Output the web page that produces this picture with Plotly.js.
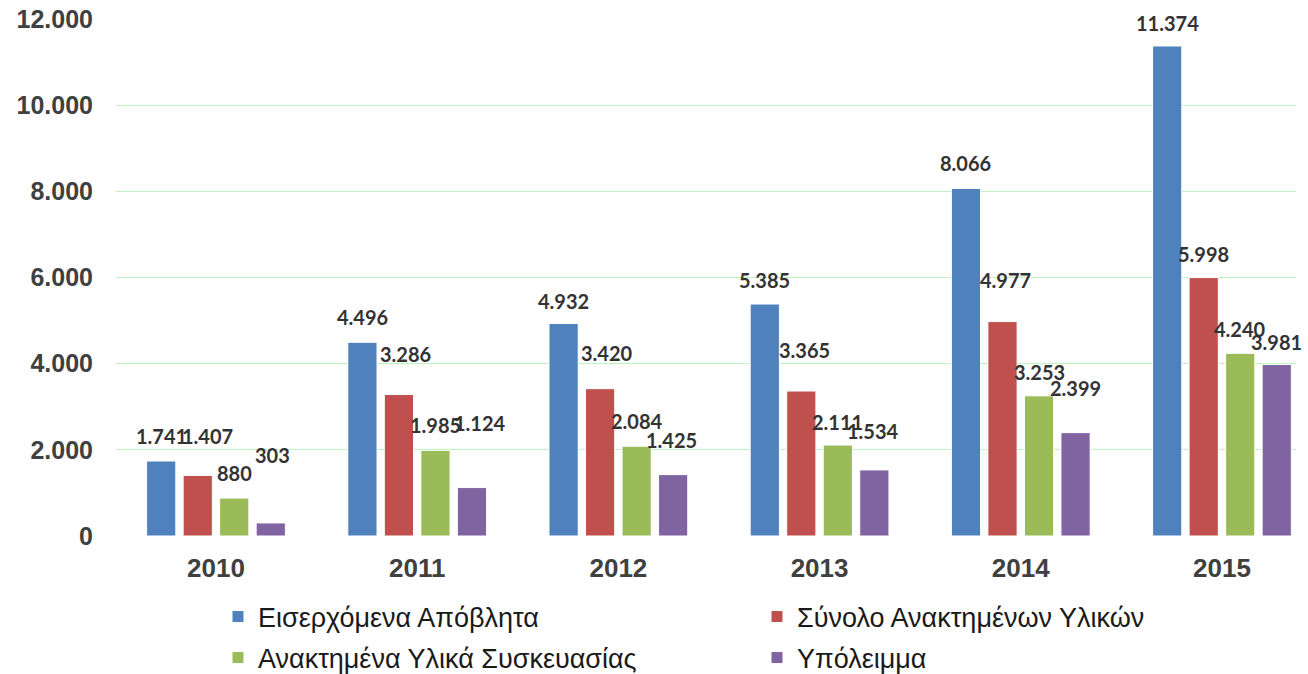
<!DOCTYPE html>
<html>
<head>
<meta charset="utf-8">
<script src="https://cdn.plot.ly/plotly-3.0.1.min.js"></script>
<style>html,body{margin:0;padding:0;background:#fff}#chart{width:1308px;height:674px}</style>
</head>
<body>
<div id="chart"></div>
<script>
// ---- data ----
const years = ['2010', '2011', '2012', '2013', '2014', '2015'];
const seriesNames = ['Εισερχόμενα Απόβλητα', 'Σύνολο Ανακτημένων Υλικών', 'Ανακτημένα Υλικά Συσκευασίας', 'Υπόλειμμα'];
const incoming  = [1741, 4496, 4932, 5385, 8066, 11374];
const recovered = [1407, 3286, 3420, 3365, 4977, 5998];
const packaging = [880, 1985, 2084, 2111, 3253, 4240];
const residue   = [303, 1124, 1425, 1534, 2399, 3981];
const yTicks = [0, 2000, 4000, 6000, 8000, 10000, 12000];

// ---- style ----
const colors = ['#4F81BD', '#C0504D', '#9BBB59', '#8064A2'];
// label lift above bar top (px) and horizontal nudge (px), mimicking the original placement
const labelLift = [
  [25, 25, 23, 24, 25, 23],
  [39, 40, 36, 41, 42, 24],
  [25, 25, 25, 23, 24, 24],
  [68, 65, 35, 39, 45, 22]
];
const labelNudge = [
  [0, 0, 0, 0, 0, 0],
  [10, 7, 7, 3, 3, 0],
  [0, 0, 0, 0, 0, 0],
  [2, 8, -2, -1, 0, 0]
];

const allSeries = [incoming, recovered, packaging, residue];
const fmt = v => String(v).replace(/\B(?=(\d{3})+(?!\d))/g, '.');

const bargap = 0.274, bargroupgap = 0.2;
const traces = allSeries.map((vals, i) => ({
  type: 'bar',
  name: seriesNames[i],
  x: years,
  y: vals,
  marker: {color: colors[i], line: {color: '#ffffff', width: 1}},
  legend: i < 2 ? 'legend' : 'legend2',
  hoverinfo: 'x+y+name'
}));

const slot = (1 - bargap) / allSeries.length;
const annotations = [];
allSeries.forEach((vals, i) => {
  vals.forEach((v, j) => {
    annotations.push({
      x: j + (i - (allSeries.length - 1) / 2) * slot,
      y: v,
      xref: 'x', yref: 'y',
      text: fmt(v),
      showarrow: false,
      xanchor: 'center', yanchor: 'middle',
      yshift: labelLift[i][j],
      xshift: labelNudge[i][j],
      font: {family: 'Lato, "Open Sans", sans-serif', size: 20, color: '#333333', weight: 'bold'}
    });
  });
});

const plotL = 116, plotR = 1296;
const W = 1308, H = 674;
const legendFont = {family: '"Liberation Sans", Arial, sans-serif', size: 27, color: '#1a1a1a'};
const legX = 218 / W;

const layout = {
  width: W, height: H,
  margin: {l: plotL, r: W - plotR, t: 19, b: H - 536, autoexpand: false},
  paper_bgcolor: '#ffffff', plot_bgcolor: '#ffffff',
  separators: ',.',
  barmode: 'group',
  bargap: bargap, bargroupgap: bargroupgap,
  font: {family: '"Liberation Sans", Arial, sans-serif', color: '#404040'},
  xaxis: {
    type: 'category',
    range: [-0.497, 5.368],
    showgrid: false, zeroline: false, showline: false, ticks: '',
    ticklabelstandoff: 14,
    tickfont: {size: 26, color: '#404040', weight: 'bold', family: '"Liberation Sans", Arial, sans-serif'},
    fixedrange: true
  },
  yaxis: {
    range: [0, 12000],
    tickvals: yTicks,
    ticktext: yTicks.map(fmt),
    showgrid: true, gridcolor: '#bff2bf', gridwidth: 1,
    zeroline: false, showline: false, ticks: '',
    ticklabelstandoff: 22,
    tickfont: {size: 25, color: '#404040', weight: 'bold', family: '"Liberation Sans", Arial, sans-serif'},
    fixedrange: true
  },
  legend: {
    orientation: 'h', x: legX, xref: 'container', xanchor: 'left',
    y: 1 - 617 / H, yref: 'container', yanchor: 'middle',
    entrywidth: 494, entrywidthmode: 'pixels',
    font: legendFont, bgcolor: 'rgba(0,0,0,0)', itemclick: false, itemdoubleclick: false
  },
  legend2: {
    orientation: 'h', x: legX, xref: 'container', xanchor: 'left',
    y: 1 - 658 / H, yref: 'container', yanchor: 'middle',
    entrywidth: 494, entrywidthmode: 'pixels',
    font: legendFont, bgcolor: 'rgba(0,0,0,0)', itemclick: false, itemdoubleclick: false
  },
  annotations: annotations,
  showlegend: true
};

Plotly.newPlot('chart', traces, layout, {displayModeBar: false});
</script>
</body>
</html>
